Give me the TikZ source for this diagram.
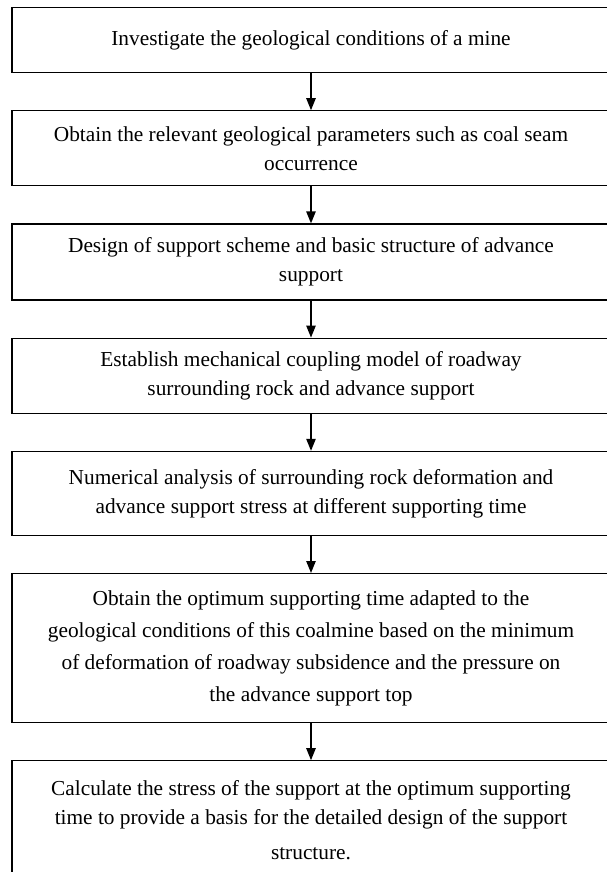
\documentclass[tikz,border=0pt]{standalone}
\usepackage{fontspec}
\setmainfont{Liberation Serif}
\usetikzlibrary{positioning,arrows.meta}

\begin{document}
\begin{tikzpicture}[>={Triangle[length=9pt,width=7pt]},node distance=27.75pt,line width=0.9pt,
  block node/.style={rectangle,draw,minimum width=448.5pt,inner sep=0pt,align=center,font=\fontsize{16pt}{21.75pt}\selectfont}]
    \clip (0,0) rectangle (455.25pt,-654pt);
    \node[block node,minimum height=48.75pt,anchor=north] (1) at (233.25pt,-5.25pt) {Investigate the geological conditions of a mine};
    \node[block node,minimum height=56.25pt] (2) [below=of 1] {Obtain the relevant geological parameters such as coal seam\\occurrence};
    \node[block node,minimum height=57pt] (3) [below=of 2] {Design of support scheme and basic structure of advance\\support};
    \node[block node,minimum height=56.25pt] (4) [below=of 3] {Establish mechanical coupling model of roadway\\surrounding rock and advance support};
    \node[block node,minimum height=63pt] (5) [below=of 4] {Numerical analysis of surrounding rock deformation and\\advance support stress at different supporting time};
    \node[block node,minimum height=111.75pt,font=\fontsize{16pt}{24pt}\selectfont] (6) [below=of 5] {Obtain the optimum supporting time adapted to the\\geological conditions of this coalmine based on the minimum\\of deformation of roadway subsidence and the pressure on\hspace*{22pt}\\the advance support top};
    \node[block node,minimum height=88.5pt] (7) [below=of 6] {Calculate the stress of the support at the optimum supporting\\time to provide a basis for the detailed design of the support\\[4.5pt]structure.};

    \path[->,line width=1.1pt]
        (1) edge (2)
        (2) edge (3)
        (3) edge (4)
        (4) edge (5)
        (5) edge (6)
        (6) edge (7)
    ;
\end{tikzpicture}
\end{document}
